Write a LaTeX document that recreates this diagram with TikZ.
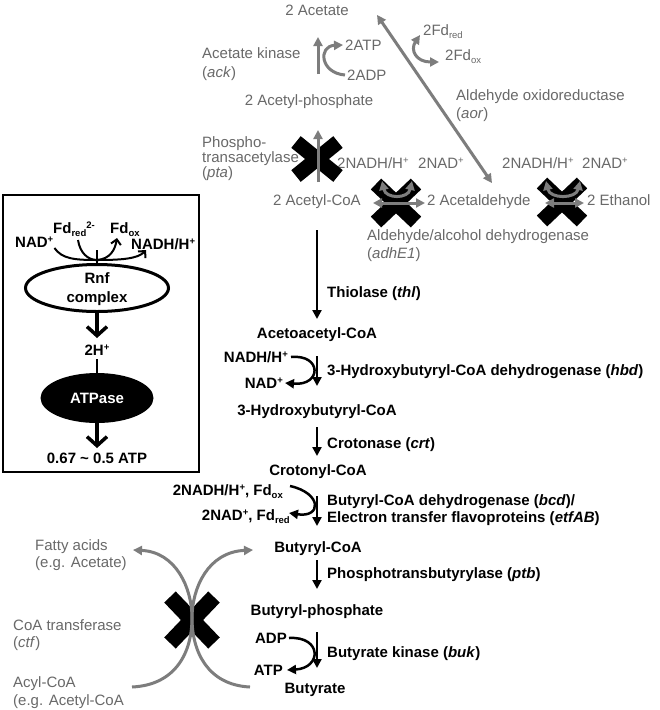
\documentclass[tikz,border=0pt]{standalone}
\usepackage{fontspec}
\setmainfont{Liberation Sans}
\usetikzlibrary{arrows.meta,shapes.geometric}
\definecolor{gtxt}{RGB}{105,105,105}
\definecolor{garr}{RGB}{125,125,125}
\newcommand\lo[1]{\raisebox{-3pt}{\fontsize{9.5}{9.5}\selectfont #1}}
\newcommand\hi[1]{\raisebox{4.5pt}{\fontsize{9.5}{9.5}\selectfont #1}}
\begin{document}
\begin{tikzpicture}[x=1pt,y=-1pt,
 t/.style={inner sep=0pt,text height=10.7pt,text depth=0pt,font=\fontsize{15}{17}\selectfont},
 bt/.style={t,font=\fontsize{15}{17}\selectfont\bfseries},
 gt/.style={t,text=gtxt},
 barr/.style={line width=2.5pt,-{Triangle[length=9pt,width=9pt]}},
 ga/.style={draw=garr,line width=3pt,-{Triangle[length=9pt,width=9pt]}},
 gaa/.style={draw=garr,line width=3pt,{Triangle[length=9pt,width=9pt]}-{Triangle[length=9pt,width=9pt]}},
 xmark/.style={line width=15pt,black},
 bxa/.style={line width=3.5pt,-{Straight Barb[length=9pt,width=20pt]}},
 bxs/.style={line width=2pt,-{Straight Barb[length=5pt,width=10pt]}},
 ]
\useasboundingbox (0,0) rectangle (660,710);
\fill[white] (0,0) rectangle (660,710);

% ---------------- top (gray) part ----------------
\node[gt] (acetate) at (317,10) {2 Acetate};
\node[gt,anchor=west] (ackl1) at (202,53) {Acetate kinase};
\node[gt,anchor=west] (ackl2) at (202,72) {(\textit{ack})};
\node[gt,anchor=west] (atp1) at (345,45) {2ATP};
\node[gt,anchor=west] (adp1) at (347,75) {2ADP};
\node[gt] (acp) at (309,100) {2 Acetyl-phosphate};
\node[gt,anchor=west] (fdred) at (423,30) {2Fd\lo{red}};
\node[gt,anchor=west] (fdox) at (445,55) {2Fd\lo{ox}};
\node[gt,anchor=west] (aor1) at (456,95) {Aldehyde oxidoreductase};
\node[gt,anchor=west] (aor2) at (456,113) {(\textit{aor})};
\node[gt,anchor=west] (pta1) at (202,142) {Phospho-};
\node[gt,anchor=west] (pta2) at (202,157) {transacetylase};
\node[gt,anchor=west] (pta3) at (202,172) {(\textit{pta})};
\node[gt,anchor=west] (nadh1) at (337,163) {2NADH/H\hi{+}};
\node[gt,anchor=west] (nad1) at (418,163) {2NAD\hi{+}};
\node[gt,anchor=west] (nadh2) at (502,163) {2NADH/H\hi{+}};
\node[gt,anchor=west] (nad2) at (582,163) {2NAD\hi{+}};
\node[gt] (acoa) at (317,200) {2 Acetyl-CoA};
\node[gt,anchor=west] (ald) at (427,200) {2 Acetaldehyde};
\node[gt,anchor=west] (eth) at (587,200) {2 Ethanol};
\node[gt,anchor=west] (adh1) at (367,235) {Aldehyde/alcohol dehydrogenase};
\node[gt,anchor=west] (adh2) at (367,253) {(\textit{adhE1})};

% X marks (under gray arrows)
\coordinate (xpta) at (317,159);
\coordinate (xadh1) at (396,203);
\coordinate (xadh2) at (562,202);
\coordinate (xctf) at (192,620);
\draw[xmark] ([shift={(-21,-17)}]xpta) -- ([shift={(21,17)}]xpta);
\draw[xmark] ([shift={(-21,17)}]xpta) -- ([shift={(21,-17)}]xpta);
\foreach \c in {xadh1,xadh2}{
 \draw[xmark] ([shift={(-20,-19)}]\c) -- ([shift={(20,19)}]\c);
 \draw[xmark] ([shift={(-20,19)}]\c) -- ([shift={(20,-19)}]\c);
}
\draw[xmark,line width=16pt] ([shift={(-22,-23)}]xctf) -- ([shift={(22,23)}]xctf);
\draw[xmark,line width=16pt] ([shift={(-22,23)}]xctf) -- ([shift={(22,-23)}]xctf);

% gray arrows
\coordinate (ackA) at (318,74);
\coordinate (ackB) at (318,37);
\draw[ga] (ackA) -- (ackB);
\draw[ga] ([xshift=-2pt]adp1.west) .. controls (320,73) and (318,46) .. ([xshift=-2pt]atp1.west);
\coordinate (aorT) at (377,15);
\coordinate (aorB) at (492,183);
\draw[gaa] (aorB) -- (aorT);
\coordinate (fdA) at (420,35);
\coordinate (fdB) at (439,62);
\draw[gaa] (fdA) .. controls (410,50) and (416,62) .. (fdB);
\coordinate (ptaA) at (318,182);
\coordinate (ptaB) at (318,130);
\draw[ga] (ptaA) -- (ptaB);
\coordinate (dA1) at (373,203); \coordinate (dB1) at (425,203);
\draw[gaa] (dA1) -- (dB1);
\coordinate (uA1) at (382,181); \coordinate (uB1) at (412,181);
\draw[gaa] (uA1) .. controls (386,199) and (408,199) .. (uB1);
\coordinate (dA2) at (545,203); \coordinate (dB2) at (584,203);
\draw[gaa] (dA2) -- (dB2);
\coordinate (uA2) at (546,181); \coordinate (uB2) at (580,181);
\draw[gaa] (uA2) .. controls (550,199) and (576,199) .. (uB2);

% ---------------- main pathway (black) ----------------
\node[bt] (aac) at (317,333) {Acetoacetyl-CoA};
\node[bt] (hbc) at (317,410) {3-Hydroxybutyryl-CoA};
\node[bt] (cro) at (318,470) {Crotonyl-CoA};
\node[bt] (buc) at (318,547) {Butyryl-CoA};
\node[bt] (bup) at (317,610) {Butyryl-phosphate};
\node[bt] (but) at (315,688) {Butyrate};

\node[bt,anchor=west] (thl) at (327,292) {Thiolase (\textit{thl})};
\node[bt,anchor=west] (hbd) at (327,370) {3-Hydroxybutyryl-CoA dehydrogenase (\textit{hbd})};
\node[bt,anchor=west] (crt) at (327,443) {Crotonase (\textit{crt})};
\node[bt,anchor=west] (bcd1) at (327,500) {Butyryl-CoA dehydrogenase (\textit{bcd})/};
\node[bt,anchor=west] (bcd2) at (327,517) {Electron transfer flavoproteins (\textit{etfAB})};
\node[bt,anchor=west] (ptb) at (327,573) {Phosphotransbutyrylase (\textit{ptb})};
\node[bt,anchor=west] (buk) at (327,652) {Butyrate kinase (\textit{buk})};

\node[bt,anchor=east] (nadh3) at (288,357) {NADH/H\hi{+}};
\node[bt,anchor=east] (nad3) at (283,383) {NAD\hi{+}};
\node[bt,anchor=east] (nadh4) at (283,490) {2NADH/H\hi{+}, Fd\lo{ox}};
\node[bt,anchor=east] (nad4) at (290,515) {2NAD\hi{+}, Fd\lo{red}};
\node[bt,anchor=east] (adp2) at (287,638) {ADP};
\node[bt,anchor=east] (atp2) at (283,670) {ATP};

\coordinate (a1) at (317,230); \coordinate (b1) at (317,319);
\draw[barr] (a1) -- (b1);
\coordinate (a2) at (317,356); \coordinate (b2) at (317,386);
\draw[barr] (a2) -- (b2);
\draw[barr] ([xshift=3pt]nadh3.east) .. controls (322,354) and (322,386) .. ([xshift=2pt]nad3.east);
\coordinate (a3) at (317,427); \coordinate (b3) at (317,456);
\draw[barr] (a3) -- (b3);
\coordinate (a4) at (317,496); \coordinate (b4) at (317,526);
\draw[barr] (a4) -- (b4);
\draw[barr] ([xshift=7pt,yshift=4pt]nadh4.east) .. controls (322,493) and (322,518) .. ([xshift=-1pt,yshift=2pt]nad4.east);
\coordinate (a5) at (317,560); \coordinate (b5) at (317,589);
\draw[barr] (a5) -- (b5);
\coordinate (a6) at (317,632); \coordinate (b6) at (317,668);
\draw[barr] (a6) -- (b6);
\draw[barr] ([xshift=2pt]adp2.east) .. controls (322,636) and (322,668) .. ([xshift=4pt]atp2.east);

% ---------------- CoA transferase (gray) ----------------
\node[gt,anchor=west] (fa1) at (35,545) {Fatty acids};
\node[gt,anchor=west] (fa2) at (35,562) {(e.g. Acetate)};
\node[gt,anchor=west] (ctf1) at (13,625) {CoA transferase};
\node[gt,anchor=west] (ctf2) at (13,642) {(\textit{ctf})};
\node[gt,anchor=west] (acy1) at (13,682) {Acyl-CoA};
\node[gt,anchor=west] (acy2) at (13,700) {(e.g. Acetyl-CoA};
\coordinate (cA) at (132,687); \coordinate (cB) at (253,550);
\coordinate (cC) at (250,687); \coordinate (cD) at (133,550);
\draw[ga] (cA) .. controls (176,685) and (192,652) .. (192,618) .. controls (192,588) and (208,552) .. (cB);
\draw[ga] (cC) .. controls (208,685) and (192,652) .. (192,618) .. controls (192,588) and (176,552) .. (cD);

% ---------------- Rnf / ATPase box ----------------
\draw[line width=1.5pt] (3,195) rectangle (199,472);
\node[bt,anchor=west] (fdr) at (53,228) {Fd\lo{red}\hi{2-}};
\node[bt,anchor=west] (fdo) at (110,228) {Fd\lo{ox}};
\node[bt,anchor=west] (nadb) at (15,242) {NAD\hi{+}};
\node[bt,anchor=west] (nadhb) at (131,244) {NADH/H\hi{+}};
\node[ellipse,draw,line width=3pt,fill=white,minimum width=143pt,minimum height=47pt,inner sep=0pt] (rnf) at (97,288) {};
\node[bt] (rnf1) at (97,278) {Rnf};
\node[bt] (rnf2) at (97,297) {complex};
\node[ellipse,fill=black,minimum width=113pt,minimum height=50pt,inner sep=0pt] (atpase) at (97,398) {};
\node[bt,text=white] (atpt) at (97,398) {ATPase};
\node[bt] (h2) at (97,350) {2H\hi{+}};
\node[bt] (atpo) at (97,458) {0.67 \textasciitilde{} 0.5 ATP};
\coordinate (J) at (97,260);
\coordinate (Jt) at (97,250);
\coordinate (foxT) at (117,238);
\coordinate (nhT) at (146,250);
\coordinate (frS) at (78,240);
\coordinate (rnfT) at (97,338);
\coordinate (h2B) at (97,359);
\coordinate (atpT) at (97,448);
\draw[line width=2pt] (Jt) -- (rnf.north);
\draw[line width=2pt] ([shift={(1,6)}]nadb.east) .. controls (62,259) and (75,260) .. (J);
\draw[line width=2pt] (frS) .. controls (80,253) and (88,260) .. (J);
\draw[bxs] (J) .. controls (110,259) and (115,250) .. (foxT);
\draw[bxs] (J) .. controls (120,260) and (138,259) .. (nhT);
\draw[bxa] (rnf.south) -- (rnfT);
\draw[line width=2.5pt] (h2B) -- (atpase.north);
\draw[bxa] (atpase.south) -- (atpT);
\end{tikzpicture}
\end{document}
